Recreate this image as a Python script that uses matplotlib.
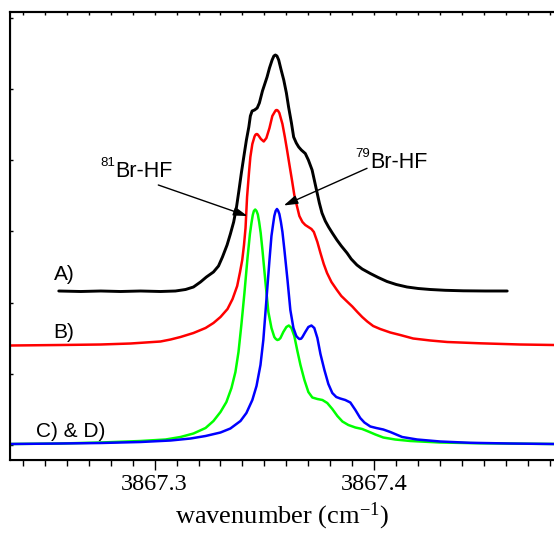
import matplotlib
matplotlib.use("Agg")
import matplotlib.pyplot as plt
from matplotlib.ticker import MultipleLocator, FixedLocator

# ---------------- data ----------------
# A) experimental spectrum (offset trace)
xa = [3867.2564, 3867.2664, 3867.2755, 3867.2845, 3867.2936, 3867.3027, 3867.3095, 3867.3141, 3867.3177, 3867.3209,
      3867.3236, 3867.3268, 3867.3291, 3867.3309, 3867.3330, 3867.3345, 3867.3360, 3867.3373, 3867.3383, 3867.3395,
      3867.3406, 3867.3418, 3867.3429, 3867.3436, 3867.3444, 3867.3455, 3867.3467, 3867.3477, 3867.3484, 3867.3491,
      3867.3500, 3867.3512, 3867.3523, 3867.3535, 3867.3543, 3867.3550, 3867.3557, 3867.3565, 3867.3575, 3867.3588,
      3867.3600, 3867.3610, 3867.3623, 3867.3633, 3867.3645, 3867.3656, 3867.3668, 3867.3686, 3867.3700, 3867.3717,
      3867.3727, 3867.3740, 3867.3750, 3867.3762, 3867.3777, 3867.3792, 3867.3809, 3867.3830, 3867.3850, 3867.3876,
      3867.3895, 3867.3921, 3867.3945, 3867.3982, 3867.4018, 3867.4058, 3867.4100, 3867.4149, 3867.4200, 3867.4255,
      3867.4323, 3867.4405, 3867.4505, 3867.4605]
ya = [169, 168.5, 169, 168.5, 169, 168.5, 169, 170.5, 173, 178,
      183, 188, 194, 203, 215, 226, 238, 253, 268, 287,
      303, 320, 333, 344, 349, 350, 352, 357, 363, 369,
      375, 383, 392, 400, 404, 405, 404, 400, 391, 380,
      367, 353, 337, 323, 317, 313, 310, 306.5, 300, 290,
      280, 267, 257, 247, 239, 233, 227, 220, 214, 207,
      201, 195, 191, 186.5, 182.5, 178.5, 175.5, 173, 171.5, 170.5,
      169.7, 169.2, 169, 169]

# B) simulated total spectrum (offset trace)
xb = [3867.2345, 3867.2573, 3867.2755, 3867.2891, 3867.3027, 3867.3073, 3867.3118, 3867.3177, 3867.3232, 3867.3268,
      3867.3300, 3867.3332, 3867.3355, 3867.3376, 3867.3389, 3867.3399, 3867.3407, 3867.3414, 3867.3421, 3867.3430,
      3867.3436, 3867.3445, 3867.3455, 3867.3459, 3867.3464, 3867.3468, 3867.3473, 3867.3484, 3867.3497, 3867.3509,
      3867.3523, 3867.3536, 3867.3548, 3867.3552, 3867.3557, 3867.3562, 3867.3568, 3867.3582, 3867.3593, 3867.3603,
      3867.3614, 3867.3626, 3867.3636, 3867.3649, 3867.3659, 3867.3673, 3867.3686, 3867.3700, 3867.3714, 3867.3725,
      3867.3741, 3867.3755, 3867.3770, 3867.3785, 3867.3805, 3867.3830, 3867.3850, 3867.3876, 3867.3900, 3867.3923,
      3867.3945, 3867.3968, 3867.3995, 3867.4027, 3867.4073, 3867.4118, 3867.4177, 3867.4255, 3867.4332, 3867.4482,
      3867.4664, 3867.4818]
yb = [114.5, 115, 115.5, 116.5, 118.5, 120.5, 123, 127, 132, 137,
      143, 151, 161, 174, 188, 200, 215, 232, 263, 288,
      303, 316, 323.5, 325.2, 326, 325.8, 324.5, 321, 318.5, 322,
      332, 344, 348.5, 349.8, 350, 349.2, 347, 336, 323, 310,
      295, 279, 265, 253, 244, 238, 235, 233, 231, 228,
      218, 207, 196, 187, 178, 170, 164, 158.5, 153.5, 148,
      143, 138.5, 134, 131, 127.5, 125, 121.5, 119.5, 118, 116.7,
      115.5, 115]

# C) 81Br-HF simulation
xc = [3867.2345, 3867.2573, 3867.2755, 3867.2936, 3867.3050, 3867.3118, 3867.3177, 3867.3232, 3867.3268, 3867.3300,
      3867.3327, 3867.3350, 3867.3368, 3867.3382, 3867.3395, 3867.3409, 3867.3423, 3867.3434, 3867.3441, 3867.3447,
      3867.3452, 3867.3458, 3867.3464, 3867.3470, 3867.3476, 3867.3483, 3867.3491, 3867.3505, 3867.3518, 3867.3532,
      3867.3545, 3867.3552, 3867.3559, 3867.3566, 3867.3573, 3867.3586, 3867.3600, 3867.3611, 3867.3623, 3867.3636,
      3867.3650, 3867.3664, 3867.3682, 3867.3700, 3867.3718, 3867.3741, 3867.3764, 3867.3786, 3867.3809, 3867.3832,
      3867.3855, 3867.3882, 3867.3914, 3867.3945, 3867.3973, 3867.4005, 3867.4041, 3867.4095, 3867.4164, 3867.4300,
      3867.4482, 3867.4818]
yc = [16, 16.5, 17.5, 19, 20.5, 23, 26.5, 32, 39, 48,
      58, 72, 88, 108, 135, 167, 202, 226, 237, 245,
      249, 250.5, 249, 245.5, 238, 227, 210, 177, 148, 132,
      123, 121, 120, 120.5, 122, 128, 133, 134.5, 132, 124,
      109, 95, 80, 68, 62.5, 61, 60, 57, 51, 44,
      38.5, 35, 32.5, 31, 28.5, 25.5, 22.5, 20.5, 19, 17.5,
      16.7, 16]

# D) 79Br-HF simulation
xd = [3867.2345, 3867.2573, 3867.2755, 3867.2936, 3867.3073, 3867.3164, 3867.3232, 3867.3300, 3867.3345, 3867.3391,
      3867.3418, 3867.3445, 3867.3464, 3867.3482, 3867.3495, 3867.3509, 3867.3523, 3867.3532, 3867.3539, 3867.3545,
      3867.3551, 3867.3557, 3867.3562, 3867.3568, 3867.3575, 3867.3582, 3867.3591, 3867.3605, 3867.3618, 3867.3632,
      3867.3645, 3867.3652, 3867.3659, 3867.3667, 3867.3673, 3867.3686, 3867.3700, 3867.3714, 3867.3727, 3867.3741,
      3867.3755, 3867.3773, 3867.3791, 3867.3809, 3867.3827, 3867.3845, 3867.3868, 3867.3891, 3867.3914, 3867.3936,
      3867.3955, 3867.3982, 3867.4009, 3867.4041, 3867.4073, 3867.4100, 3867.4127, 3867.4195, 3867.4300, 3867.4436,
      3867.4618, 3867.4818]
yd = [16, 16.5, 17, 18, 19.5, 21.5, 24, 27.5, 31.5, 39,
      47, 60, 74, 95, 120, 160, 200, 224, 235, 244,
      249, 251, 249.5, 246, 238, 228, 210, 180, 150, 132,
      124, 122.3, 121, 121.3, 123, 128, 133, 134.5, 132, 122,
      106, 90, 76, 67, 63, 61.5, 60, 57.5, 50, 42,
      37.5, 33.5, 32, 30.5, 28, 25.5, 23, 20.5, 18.5, 17.2,
      16.5, 16]

x_major = [3867.3, 3867.4]
x_major_labels = ["3867.3", "3867.4"]
y_ticks = [15, 86, 157, 229, 300, 371, 442]

# ---------------- figure ----------------
W, H = 554, 548
fig = plt.figure(figsize=(W / 100, H / 100), dpi=100)
ax = fig.add_axes([10 / W, 88 / H, 544 / W, 448 / H])

lw = 1.8
style = dict(solid_joinstyle="round", solid_capstyle="round")
ax.plot(xa, ya, color="black", lw=lw + 0.3, **style)
ax.plot(xb, yb, color="#ff0000", lw=lw, **style)
ax.plot(xc, yc, color="#00ff00", lw=lw, **style)
ax.plot(xd, yd, color="#0000ff", lw=lw, **style)

ax.set_xlim(3867.2342, 3867.4818)
ax.set_ylim(0, 448)

serif = "Liberation Serif"
sans = "Liberation Sans"

ax.xaxis.set_major_locator(FixedLocator(x_major))
ax.set_xticklabels(x_major_labels, fontfamily=serif, fontsize=17.5)
ax.xaxis.set_minor_locator(MultipleLocator(0.01))
ax.tick_params(axis="x", which="major", direction="out", length=7, width=1.0, pad=3)
ax.tick_params(axis="x", which="minor", direction="out", length=4.5, width=1.0)

ax.yaxis.set_major_locator(FixedLocator(y_ticks))
ax.tick_params(axis="y", which="both", direction="in", length=2.5, width=1.0, labelleft=False)

for s in ["left", "bottom", "top"]:
    ax.spines[s].set_linewidth(1.5)
ax.spines["right"].set_visible(False)

# top ticks (inward)
ax2 = ax.twiny()
ax2.set_xlim(ax.get_xlim())
ax2.xaxis.set_major_locator(FixedLocator(x_major))
ax2.xaxis.set_minor_locator(MultipleLocator(0.01))
ax2.tick_params(axis="x", which="both", direction="in", length=2.5, width=1.0, labeltop=False)
ax2.spines["right"].set_visible(False)
ax2.spines["top"].set_linewidth(1.5)

ax.set_xlabel(r"wavenumber (cm$\mathregular{^{-1}}$)", fontfamily=serif, fontsize=19, labelpad=4)

ax.text(3867.2541, 180, "A)", fontfamily=sans, fontsize=15, ha="left", va="baseline")
ax.text(3867.2540, 122, "B)", fontfamily=sans, fontsize=15, ha="left", va="baseline")
ax.text(3867.2459, 22.7, "C) & D)", fontfamily=sans, fontsize=15, ha="left", va="baseline")

# isotope labels: small superscript + main text
for (lx, ly, sup) in [(3867.2755, 283.3, "81"), (3867.3914, 292, "79")]:
    ax.annotate(sup, xy=(lx, ly), xytext=(0, 8), textcoords="offset points",
                fontfamily=sans, fontsize=9.5, ha="left", va="baseline")
    ax.annotate("Br-HF", xy=(lx, ly), xytext=(10.8, 0), textcoords="offset points",
                fontfamily=sans, fontsize=15.5, ha="left", va="baseline")

arrow = dict(arrowstyle="-|>,head_length=0.7,head_width=0.22", color="black", lw=1.0,
             shrinkA=0, shrinkB=0, mutation_scale=12)
ax.annotate("", xy=(3867.3423, 244), xytext=(3867.3017, 275), arrowprops=arrow)
ax.annotate("", xy=(3867.3588, 254.5), xytext=(3867.3967, 291.7), arrowprops=arrow)

fig.savefig("out.png", dpi=100)
